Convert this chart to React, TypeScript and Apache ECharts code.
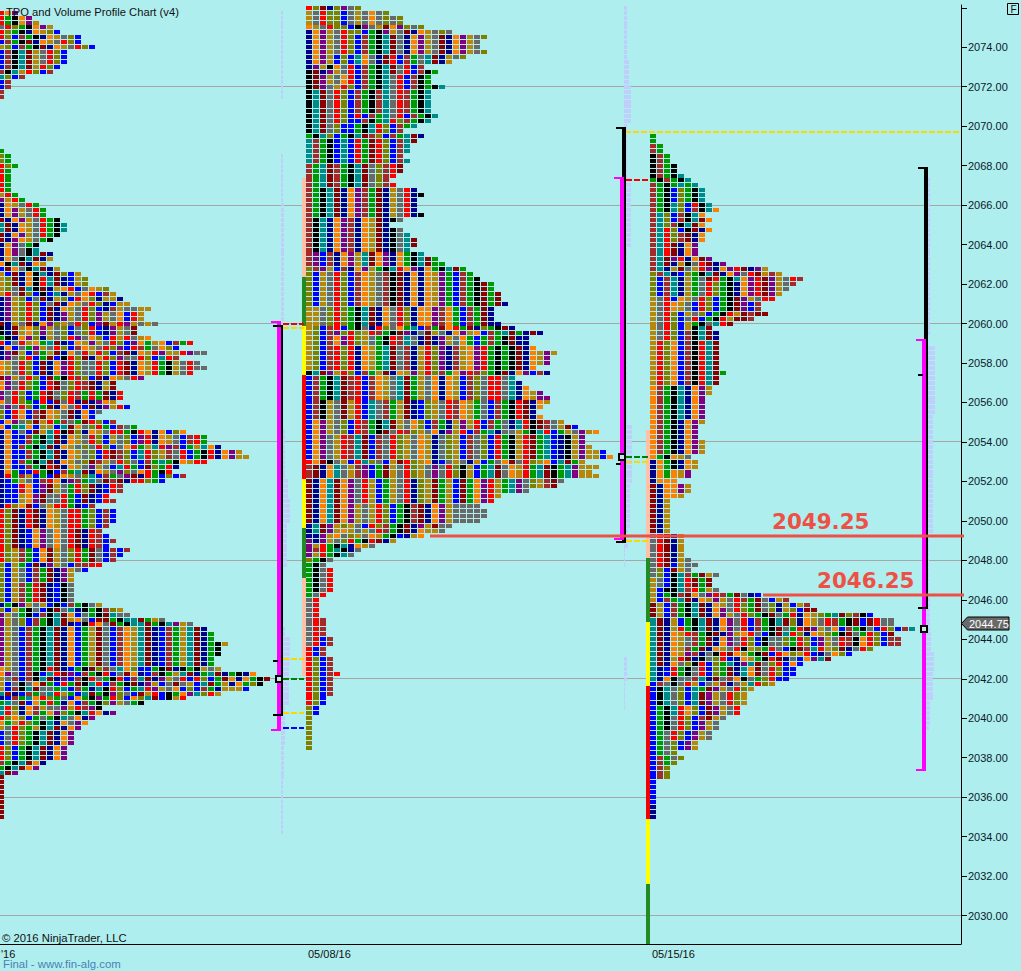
import React, { useEffect, useRef } from "react";
import * as echarts from "echarts";

type Band = [string, number[]];

const PRICE_TICKS = [2076, 2074, 2072, 2070, 2068, 2066, 2064, 2062, 2060, 2058, 2056, 2054, 2052, 2050, 2048, 2046, 2044, 2042, 2040, 2038, 2036, 2034, 2032, 2030];
const PRICE_LABELS = PRICE_TICKS.slice(1);
const GRID_PRICES = [2072, 2066, 2060, 2054, 2048, 2042, 2036, 2030];
const DATE_LABELS = ["'16", "05/08/16", "05/15/16"];
const LAST_PRICE = 2044.75;
const LEVEL_PRICES = [2049.25, 2046.25];

const PROFILE_A_TOP: Band[] = [
  ["rop", [3]], ["rgkop", [5]], ["rgkopy", [6]], ["arlgkopy", [8]], ["rlgknoylb", [9]],
  ["rlbwgknoyalb", [12]], ["bwgkmnoyarlb", [12]], ["ylbwgkmnoyarlb", [14]],
  ["bwktmyarlb", [10, 10, 10]], ["bwktmyrlb", [9]], ["wktyrlbw", [8]], ["tlbw", [4]], ["bw", [2, 2]], ["w", [1, 1]],
];

const PROFILE_A_MAIN: Band[] = [
  ["g", [1]], ["lg", [2, 2]], ["rlg", [3]], ["rg", [2, 2, 2, 2, 2]], ["yrg", [3]], ["pyrg", [4]],
  ["noyarg", [6]], ["nopyarg", [7, 7]], ["mnopyargk", [9]], ["tmnoyargk", [10, 10]], ["mnopyargk", [9]],
  ["mnpoyagk", [8]], ["nopagk", [6]], ["nopakt", [6]], ["nopaktmn", [8]], ["noaktmny", [8]], ["oktmnoy", [7]],
  ["bmoaktmny", [9]], ["ybmnoktnmlby", [12]], ["ylmnokrtmnbyl", [13, 13]], ["ylamtkmnyorbaoyl", [16]],
  ["yramlbkbtnyaorbwy", [17]], ["npylbamnylbrolnyy", [18]], ["npylrlbamnoyarlnbyy", [19]],
  ["npylrlbmnoyarlbnwyaayy", [22]], ["npylrlbmnpyarlpyaobry", [21, 21]], ["mnyamnoplyarlbpmyrpyaya", [23]],
  ["knmyolpyalbalrbnpyama", [20, 20]], ["gknoplnyalrpaolbryrayo", [22]], ["rbaryogtmnboypyarlbpogyobwgry", [28]],
  ["nobagpyarlbwoyarlpbrwgaolb", [26]], ["npmybwgymnoaryrlbwmnoyrpyyrpaa", [30]], ["npalrbgmbkrlmnyrlpaarlbtrwgy", [26]],
  ["oyarlbmnoprlaarlbrmnoyrgkyaraa", [29, 30, 28]], ["mpyarlbmgkrwlbmnoyarpk", [21]], ["oparlgbrmalrwmnym", [17, 17]],
  ["parlbgrmalrwgrgmnr", [18, 18]], ["oarlgbrbmarnmnpoy", [17]], ["aparlbgmnoarbmnpyrb", [19]], ["lbrobwmoyamnoba", [15, 14]],
  ["bopalmyrgwagmrlbw", [17]], ["obgtobyybtmoalrgbwag", [20]], ["nobabmytrkmlnoyarrgkronoblow", [27]],
  ["nobbwgktmnoyarlbyalbprnoyabwrgtrnbop", [30, 30]], ["nobwgktmnoyalarlbaorgytrpwbgyto", [32]],
  ["nobbwgktmnoyalbrmwlbtrlywarbgkrnopyy", [35, 36]], ["nobwgktmnoyalmwyarlabwgtgkoyrr", [30]],
  ["nobbwgkrmnoyapyabtrgbmlgr", [26]], ["nogbbrgkbwgtmnoyaplaorgkr", [25]], ["nrgwybgbmoyaltbwgapmnrgblbw", [27]],
  ["nbgyabwronpwgtamwmnrrlgb", [24]], ["nbbrobpmyagrlmnbrw", [18, 18]], ["nbbyopmaargbmnbrw", [16, 17]], ["nrlombayrrgnbw", [14]],
  ["rlmnrmnoyarrglbwb", [17, 17, 17, 16]], ["rlmnbopaoarmnrwbw", [15, 16, 17, 16]], ["rlywgbomyalrgmabwbw", [19, 18, 17]],
  ["lbygbmnpyabwwrr", [15]], ["lbyabwgmnpyab", [13, 11, 11]], ["lbywgrmnbka", [11, 11, 11, 11]], ["ngkpyaybkbwgkay", [15]],
  ["lbygkabkmatnkgkwly", [18]], ["pyagkbwktmobagkmtaa", [19]], ["pyalbwgktmyoabmmgkttmgya", [24]],
  ["pyalbwgktmnbkroamgkttmgktpya", [28]], ["pyabwgktmnobgymabwoytmnbwgytmngkya", [30, 31, 31, 33, 32, 32, 31, 31]],
  ["oyabwgkrmnbgkmlwatolbbgkmnkgkyayy", [32]], ["opabwkbtrmpbwgkrbamonbwkgytmngtmngknoy", [37]],
  ["yawbwktmnpbwkragkrbwtmnpyarbrlbgmonogkmny", [39]], ["ybakaomgbrgmktrbwgkmnpybamaybtmgynoglkmny", [38]],
  ["ybwktmaagtbwgntkrlbgtrpyaoblbwgnyy", [36]], ["tmnbwgatrygbtmgkplabmyrbkgoptlry", [32]],
  ["nbwgtorlgabogkpgrlboltmbkyrpy", [27]], ["gtambogrgnobwgklpyagkwg", [21]], ["trlnowyaapyrwpk", [15]],
  ["trynowgoplgktronp", [17]], ["rlolbgagktaonp", [14]], ["ogyrlgktnoap", [13]], ["yarlgyktmnop", [12]],
  ["barlgktmnop", [11, 11, 11]], ["rlbgktmnop", [10, 10, 10]], ["wgktmon", [7]], ["gktmop", [6]], ["tmp", [3]],
  ["m", [1, 1, 1, 1, 1, 1, 1, 1, 1]],
];

const PROFILE_B: Band[] = [
  ["rlmnlpal", [8]], ["yarllbayaoalal", [12, 14, 14]], ["oyarllbkpaymoplal", [17]], ["nopyarllbgkpyamnoyala", [21]],
  ["nopyarlbwgktmanopyamnopyalb", [26, 25, 25, 26]], ["nopyblbtoanmrbwgatmnyalrb", [23, 21]], ["npykoarbwgktmarbw", [17]],
  ["kmnpyarbwgktmarbwkg", [19]], ["kmpyaorbwgktarbwkg", [18, 18]], ["kmpayrlbwgktarbwkgkt", [20]],
  ["ktmarlbwgkwtarwgkt", [18, 18, 18, 18, 18]], ["ktmarlbrbwgtarbwgkt", [19]], ["ktmarlbbwkgtrlwgkt", [18]],
  ["ktmalbbgktrlbwgt", [16, 14]], ["gktlbgktmwlbwgtmn", [17]], ["twgkbtbrgmrlbwtmn", [16, 15, 15, 14, 15]],
  ["wgtmwgktmalwrmnk", [14, 14, 13, 12, 13]], ["wgktmnopwgmnyarnk", [16, 17, 16, 16, 16, 17]],
  ["wktnopwnoymnkatm", [14, 12, 14, 15, 16, 16, 15]], ["wpbwnopytmopnogktmgg", [17, 19, 20]],
  ["lwpybwnopygktropnogktmg", [23]], ["lbyarlbwoyawkmnonoypgbwgkmgmnn", [24, 25, 27, 27, 28, 28, 29]],
  ["yyalrlgktmnoarlnoopwogbwgmnn", [27, 27, 27, 28]], ["ylbwrbgkanrlaogtbwgmorgmnlgkmn", [30]],
  ["ylbwplrlyrwgkmpnamyanopyobwgtmgnmn", [34]], ["ylbwoprlyagkrwtanmnpyaogbgwgkmnn", [32, 32]],
  ["ylbwrlrnoygtmawnyrlpnwyoprgkgkmnoyp", [33, 36, 35, 35, 33]], ["ktmpyrlbwgymnoypyrlwgoprwlgkmnopbwn", [35]],
  ["bwgktmwrbwoyatmgyaonoybwlarratnoyppl", [30, 31, 32, 34, 35]], ["bwkyamyrbtawgymnblyarwoygabwgkrmnoyp", [35, 34, 33, 34]],
  ["bopyalbrwgktmyaolbwgnypyrbwgantrkmwaym", [37, 39]], ["bopyalbrwgkmarwlyaonpyrbwgtnaaygktrbgyapyo", [42]],
  ["bopayrwtmbwarlyaoynalybwalbrgkyrmgtbnkypyy", [40, 40, 41, 43, 44]], ["romkaybrtlabymrlyonbayanybgaomarlyobtmgy", [40]],
  ["wmnotaywpbgmyarlyaparlkybgtmaoyrgtmkgtpyyy", [42, 41, 42]], ["mnotmoparybgyarnlymgybmgoprygtpalywma", [37, 36, 32, 28, 27]],
  ["mnotmopyayrlbgkwmnopyaaaaa", [25, 26, 26, 25]], ["ntmpylyabrlwgkmnpymaa", [21]], ["ntmpyoyayarwgkmnoyya", [20]],
  ["nnpyoalyaoygkbnyo", [17]], ["pnpyalrgkrmny", [13]], ["pyrgktnoya", [10]], ["pwrgtkna", [8]], ["pyrgkta", [7]],
  ["lgka", [4]], ["gka", [3]], ["gkar", [4, 4, 4, 4, 4]], ["gar", [3]], ["ar", [2, 2, 2, 2]], ["arw", [3, 3, 3, 3]],
  ["arbw", [4, 4]], ["rbw", [3, 3]], ["rlbwr", [4, 4, 4, 5, 4, 4, 4, 4]], ["rlb", [3, 3]], ["lb", [2, 2]],
  ["l", [1, 1, 1, 1, 1, 1, 1]],
];

const PROFILE_C: Band[] = [
  ["g", [1, 1]], ["wg", [2, 2]], ["kwg", [3, 3]], ["kwgk", [4, 4]], ["kwgkt", [5]], ["gkwgkt", [6]], ["wgkgtgt", [7]],
  ["wgkblgkt", [8, 8, 8]], ["wgktlbrkt", [9]], ["wgktlbwkto", [10]], ["wtlbwkto", [8]], ["wtlbwktmo", [9]], ["wtlwktmo", [8]],
  ["wtrlbkmno", [9]], ["wtrlwmno", [8, 8]], ["wtrmnop", [7, 7, 7]], ["wtmprnomp", [9]], ["wtmnykarmnp", [11]],
  ["wtnymayrpnoprmnpyw", [17]], ["lwtnblgktmnoparmywy", [19]], ["lbwtnygamrgktoprmpyarw", [22]], ["lbwtnygarlgknoprmpyawrw", [21, 20, 19]],
  ["yarboyarlbgkmpyarrw", [18]], ["yaroyabrlbgkmpbw", [16, 16]], ["yarlbyalbgkrymwmm", [17]], ["yarlbarbgkrymmw", [15]],
  ["yarlbygkatrm", [12]], ["yarlbyktm", [9]], ["yarlbwktmn", [10, 10]],
  ["yrlobwkrtmgp", [10, 10, 10, 10, 10, 10, 11, 10, 10]], ["owgktnopyam", [9, 9, 8, 8, 8, 8, 8]],
  ["owgknopy", [8, 7, 7, 7, 8, 8, 8]], ["ogkoya", [6]], ["nogknoy", [7, 7]], ["nogoyp", [6, 6]], ["nooo", [4]],
  ["mnoopy", [6, 6]], ["mnooy", [5]], ["mny", [3, 3, 3, 3, 3, 3, 3]], ["armny", [5, 5, 5, 5, 5]], ["armnya", [6]],
  ["armbyaa", [7]], ["albmya", [6]], ["albktwgmya", [10]], ["yabktrmgma", [9, 9]], ["ybkktwrgyab", [10]],
  ["ybgkwmoaprwgmanb", [16]], ["ybwgtmnoypyarwgmabyw", [20]], ["mybwgktmnoyarlgmalnybyw", [23]],
  ["mybwgktmnoparlgmalnylbm", [24]], ["mybwgktmnopyarlgkmagrnoylgtmlwkbm", [32]],
  ["tmnybgktmnoparbwgktmlnoyarwgkmbmraa", [35, 35]], ["tmnyrgktmnoparbwgkmagrmpyaobwgkabrlbw", [38]],
  ["tmnoyrwgkmnpyorabkmtrlnoylgkmagrlbm", [35]], ["tmnoyawgmnoparlbkaalgrlbpyarwkorlbww", [36, 36]],
  ["tmnoywgmnoyarkylgrabkmwtrylmnarlb", [32]], ["tmnoypwnakrmoygkmbrolyrbnaolb", [29]], ["tmnyrmnkalrbnoygkrmnabop", [26]],
  ["tmnoalkrblgtnptmalrbob", [22]], ["tnbrgkarblgmntomarlbb", [21, 21]], ["tnokaawtnmawokaglrbb", [20]],
  ["bwakarybaywnaytrly", [18]], ["bktalbtgmpyarly", [15]], ["bktalbtmpyarly", [14, 14, 14]], ["bgktrolbmpyar", [13, 13]],
  ["bgkarlbwmya", [11]], ["bgkarlbpya", [10, 10]], ["bgarlbpya", [9, 9]], ["bgalbpy", [7, 7]], ["bgal", [4]], ["bwgal", [5]],
  ["bwgl", [4]], ["bwl", [3, 3, 3]], ["b", [1, 1, 1, 1, 1]], ["n", [1, 1, 1]],
];

// [row count, volume] runs, from the top price downward
const VOLUME_A_RUNS = [[18, 2], [11, 0], [10, 2], [24, 3], [22, 2], [10, 4], [4, 7], [5, 9], [9, 6], [12, 2], [2, 4], [6, 9], [8, 8], [8, 4], [7, 3], [11, 2]];
const VOLUME_B_RUNS = [[11, 3], [5, 5], [8, 7], [11, 3], [14, 7], [36, 3], [12, 8], [9, 6], [4, 4], [4, 1], [18, 0], [5, 3], [6, 1]];
const VOLUME_C_RUNS = [[32, 4], [2, 2], [14, 9], [24, 7], [13, 3], [7, 4], [4, 5], [4, 8], [6, 7], [5, 4], [1, 3]];

// [top, bottom, colour]
const SESSION_BAND_A = [[2067.375, 2062.375, "s"], [2062.375, 2059.875, "f"], [2059.875, 2057.375, "u"], [2057.375, 2052.125, "e"], [2052.125, 2049.625, "u"], [2049.625, 2047.125, "f"], [2047.125, 2042.125, "s"]];
const SESSION_BAND_C = [[2054.625, 2048.125, "s"], [2048.125, 2044.875, "f"], [2044.875, 2041.625, "u"], [2041.625, 2034.875, "e"], [2034.875, 2031.625, "u"], [2031.625, 2028.56, "f"]];
const RANGE_A = { ib: [2059.86, 2040.14], full: [2060.06, 2039.38], ticks: [2042.88], poc: 2042 };
const RANGE_B = { ib: [2069.9, 2048.92], full: [2067.36, 2049.1], ticks: [2052.88], poc: 2053.25 };
const RANGE_C = { ib: [2067.87, 2045.6], full: [2059.15, 2037.4], ticks: [2057.37], poc: 2044.5 };
const DASH_LEVELS_A = [[2060, "e"], [2059.75, "d"], [2043, "d"], [2042, "G"], [2040.25, "d"], [2039.5, "B"]];
const DASH_LEVELS_B = [[2067.25, "e"], [2053.25, "G"], [2053, "d"], [2049, "d"]];
const LONG_DASH_LEVEL = 2069.7;

const COL_PX = 7;
const GRID_W = 961;
const X = (px: number) => px / COL_PX;
const Y_MIN = 2028.56;
const Y_MAX = 2076.14;
const BG = "#AFEEEE";
const CELL_COLORS: Record<string, string> = {
  r: "#FF0000", g: "#009900", k: "#000000", t: "#008B8B", m: "#8B0000", n: "#00008B", o: "#FF8000",
  p: "#800080", y: "#B8860B", a: "#696969", l: "#808000", b: "#0000FF", w: "#A52A2A",
};
const MARK_COLORS: Record<string, string> = {
  s: "#FFC0A8", f: "#228B22", u: "#FFFF00", e: "#F00000", d: "#FFD700", G: "#008000", B: "#0000FF",
  M: "#FF00FF", K: "#000000",
};
const FONT = '"Liberation Sans", Arial, sans-serif';
const LEVEL_RED = "#EE5046";

function cells(bands: Band[], topPrice: number, startPx: number) {
  const out: any[] = [];
  let row = 0;
  for (const [colors, widths] of bands) {
    for (const w of widths) {
      for (let c = 0; c < w; c++) {
        out.push([X(startPx + c * COL_PX), topPrice - row * 0.25, CELL_COLORS[colors[c % colors.length]]]);
      }
      row++;
    }
  }
  return out;
}

function volumes(runs: number[][], topPrice: number, basePx: number) {
  const out: any[] = [];
  let row = 0;
  for (const [n, v] of runs) {
    for (let i = 0; i < n; i++) {
      if (v > 0) out.push([X(basePx), topPrice - row * 0.25, v]);
      row++;
    }
  }
  return out;
}

function rangeMarks(r: any, magL: number, magR: number, blackR: number, blackTopL: number, magCapL: number, blackBotL: number, tickL: number) {
  const rects: any[] = [
    [X(blackR - 4), X(blackR), r.ib[0], r.ib[1], "K"],
    [X(magL), X(magR), r.full[0], r.full[1], "M"],
  ];
  const caps: any[] = [
    [X(blackTopL), X(blackR), r.ib[0], "K"],
    [X(blackBotL), X(blackR), r.ib[1], "K"],
    [X(magCapL), X(magR), r.full[0], "M"],
    [X(magCapL), X(magR), r.full[1], "M"],
    ...r.ticks.map((p: number) => [X(tickL), X(magL + 1), p, "K"]),
  ];
  return { rects, caps };
}

export default function App() {
  const ref = useRef<HTMLDivElement>(null);
  useEffect(() => {
    document.body.style.margin = "0";
    document.body.style.background = BG;
    const chart = echarts.init(ref.current!, null, { renderer: "svg" });

    const cellData = [
      ...cells(PROFILE_A_TOP, 2075.75, -2),
      ...cells(PROFILE_A_MAIN, 2068.75, -2),
      ...cells(PROFILE_B, 2076, 306),
      ...cells(PROFILE_C, 2069.5, 650),
    ];
    const volData = [
      ...volumes(VOLUME_A_RUNS, 2075.75, 281),
      ...volumes(VOLUME_B_RUNS, 2076, 624),
      ...volumes(VOLUME_C_RUNS, 2067.25, 926),
    ];
    const bandData = [
      ...SESSION_BAND_A.map((b) => [X(302), X(306), b[0], b[1], b[2]]),
      ...SESSION_BAND_C.map((b) => [X(646), X(650), b[0], b[1], b[2]]),
    ];
    const mA = rangeMarks(RANGE_A, 277, 281, 283, 273, 271, 273, 273);
    const mB = rangeMarks(RANGE_B, 620, 624, 626, 616, 614, 616, 616);
    const mC = rangeMarks(RANGE_C, 922, 926, 928, 918, 916, 918, 918);
    const dashData = [
      ...DASH_LEVELS_A.map((d) => [X(283), X(304), d[0], d[1]]),
      ...DASH_LEVELS_B.map((d) => [X(626), X(648), d[0], d[1]]),
      [X(625), X(GRID_W), LONG_DASH_LEVEL, "d"],
    ];
    const markerData = [
      [X(279), RANGE_A.poc],
      [X(621.5), RANGE_B.poc],
      [X(924), RANGE_C.poc],
    ];
    const levelStarts = [430, 763];
    const labelStarts = [772, 817];

    const rectSeries = (data: any[], z: number) => ({
      type: "custom", coordinateSystem: "cartesian2d", z, silent: true, progressive: 0, clip: false, data,
      renderItem: (_: any, api: any) => {
        const a = api.coord([api.value(0), api.value(2)]);
        const b = api.coord([api.value(1), api.value(3)]);
        const c = data[_.dataIndex][4];
        const x = Math.round(a[0]), y = Math.round(a[1]);
        return {
          type: "rect",
          shape: { x, y, width: Math.round(b[0]) - x, height: Math.round(b[1]) - y },
          style: { fill: MARK_COLORS[c] },
        };
      },
      encode: { x: [0, 1], y: [2, 3] },
    });
    const capSeries = (data: any[], z: number) => ({
      type: "custom", coordinateSystem: "cartesian2d", z, silent: true, progressive: 0, clip: false, data,
      renderItem: (_: any, api: any) => {
        const a = api.coord([api.value(0), api.value(2)]);
        const b = api.coord([api.value(1), api.value(2)]);
        const c = data[_.dataIndex][3];
        const x = Math.round(a[0]);
        return {
          type: "rect",
          shape: { x, y: Math.round(a[1]) - 1, width: Math.round(b[0]) - x, height: 2 },
          style: { fill: MARK_COLORS[c] },
        };
      },
      encode: { x: [0, 1], y: 2 },
    });

    chart.setOption({
      animation: false,
      backgroundColor: BG,
      grid: { left: 0, top: 5, width: GRID_W, height: 939, containLabel: false },
      xAxis: {
        type: "value",
        min: 0,
        max: X(GRID_W),
        splitLine: { show: false },
        axisLine: { show: true, onZero: false, lineStyle: { color: "#000", width: 1 } },
        axisTick: { show: false },
        axisLabel: { show: false },
      },
      yAxis: {
        type: "value",
        position: "right",
        min: Y_MIN,
        max: Y_MAX,
        scale: true,
        splitLine: { show: false },
        axisLine: { show: true, onZero: false, lineStyle: { color: "#000", width: 1 } },
        axisTick: { show: true, length: 6, lineStyle: { color: "#000", width: 1 }, customValues: PRICE_TICKS },
        axisLabel: {
          show: true,
          customValues: PRICE_LABELS,
          formatter: (v: number) => v.toFixed(2),
          fontFamily: FONT,
          fontSize: 11,
          color: "#0a1a2a",
          margin: 7,
        },
      },
      series: [
        {
          type: "custom", coordinateSystem: "cartesian2d", z: 1, silent: true, progressive: 0, clip: false,
          data: GRID_PRICES.map((p) => [0, p]),
          encode: { x: 0, y: 1 },
          renderItem: (_: any, api: any) => {
            const a = api.coord([0, api.value(1)]);
            const y = Math.floor(a[1]) + 0.5;
            return { type: "line", shape: { x1: 0, y1: y, x2: GRID_W, y2: y }, style: { stroke: "#A6A6A6", lineWidth: 1 } };
          },
        },
        {
          type: "custom", coordinateSystem: "cartesian2d", z: 2, silent: true, progressive: 0, clip: false,
          data: volData,
          encode: { x: 0, y: 1 },
          renderItem: (_: any, api: any) => {
            const a = api.coord([api.value(0), api.value(1)]);
            return {
              type: "rect",
              shape: { x: Math.round(a[0]), y: Math.round(a[1] - 2), width: api.value(2), height: 4 },
              style: { fill: "#BDCFFA" },
            };
          },
        },
        rectSeries(bandData, 3),
        {
          type: "custom", coordinateSystem: "cartesian2d", z: 4, silent: true, progressive: 0, clip: false,
          data: cellData,
          encode: { x: 0, y: 1 },
          renderItem: (p: any, api: any) => {
            const a = api.coord([api.value(0), api.value(1)]);
            return {
              type: "rect",
              shape: { x: Math.round(a[0]), y: Math.round(a[1] - 2), width: 6, height: 4 },
              style: { fill: cellData[p.dataIndex][2] },
            };
          },
        },
        {
          type: "custom", coordinateSystem: "cartesian2d", z: 5, silent: true, progressive: 0, clip: false,
          data: dashData,
          encode: { x: [0, 1], y: 2 },
          renderItem: (p: any, api: any) => {
            const a = api.coord([api.value(0), api.value(2)]);
            const b = api.coord([api.value(1), api.value(2)]);
            const y = Math.round(a[1]);
            return {
              type: "line",
              shape: { x1: a[0], y1: y, x2: b[0], y2: y },
              style: { stroke: MARK_COLORS[dashData[p.dataIndex][3] as string], lineWidth: 2, lineDash: [6, 2] },
            };
          },
        },
        rectSeries([...mA.rects, ...mB.rects, ...mC.rects], 6),
        capSeries([...mA.caps, ...mB.caps, ...mC.caps], 7),
        {
          type: "custom", coordinateSystem: "cartesian2d", z: 8, silent: true, progressive: 0, clip: false,
          data: markerData,
          encode: { x: 0, y: 1 },
          renderItem: (_: any, api: any) => {
            const a = api.coord([api.value(0), api.value(1)]);
            return {
              type: "rect",
              shape: { x: Math.round(a[0]) - 3, y: Math.round(a[1]) - 3, width: 6, height: 6 },
              style: { fill: "#C8E8E8", stroke: "#000", lineWidth: 2 },
            };
          },
        },
        {
          type: "custom", coordinateSystem: "cartesian2d", z: 9, silent: true, progressive: 0, clip: false,
          data: LEVEL_PRICES.map((p, i) => [X(levelStarts[i]), p, i]),
          encode: { x: 0, y: 1 },
          renderItem: (p: any, api: any) => {
            const a = api.coord([api.value(0), api.value(1)]);
            const y = Math.round(a[1]);
            return {
              type: "group",
              children: [
                { type: "rect", shape: { x: a[0], y: y - 1.5, width: 964 - a[0], height: 3 }, style: { fill: LEVEL_RED } },
                {
                  type: "text",
                  x: labelStarts[p.dataIndex],
                  y: y - 15,
                  style: {
                    text: LEVEL_PRICES[p.dataIndex].toFixed(2),
                    fill: LEVEL_RED,
                    font: 'bold 21.4px "DejaVu Sans", sans-serif',
                    textAlign: "left",
                    textVerticalAlign: "middle",
                  },
                },
              ],
            };
          },
        },
        {
          type: "custom", coordinateSystem: "cartesian2d", z: 10, silent: true, progressive: 0, clip: false,
          data: [[X(GRID_W), LAST_PRICE]],
          encode: { x: 0, y: 1 },
          renderItem: (_: any, api: any) => {
            const a = api.coord([api.value(0), api.value(1)]);
            const y = Math.round(a[1]) - 0.5;
            const x = a[0] + 0.5;
            return {
              type: "group",
              children: [
                {
                  type: "polygon",
                  shape: { points: [[x, y], [x + 6, y - 6.5], [1009, y - 6.5], [1009, y + 6.5], [x + 6, y + 6.5]] },
                  style: { fill: "#696969", stroke: "#000", lineWidth: 1 },
                },
                {
                  type: "text", x: 969, y,
                  style: { text: LAST_PRICE.toFixed(2), fill: "#fff", font: `11px ${FONT}`, textAlign: "left", textVerticalAlign: "middle" },
                },
              ],
            };
          },
        },
      ],
      graphic: [
        { type: "text", x: 6, y: 12, z: 20, style: { text: "TPO and Volume Profile Chart (v4)", fill: "#111", font: `11.2px ${FONT}`, textVerticalAlign: "middle" } },
        { type: "text", x: 2, y: 938, z: 20, style: { text: "\u00A9 2016 NinjaTrader, LLC", fill: "#111", font: `11.3px ${FONT}`, textVerticalAlign: "middle" } },
        { type: "text", x: 1, y: 954, z: 20, style: { text: DATE_LABELS[0], fill: "#111", font: `11px ${FONT}`, textVerticalAlign: "middle" } },
        { type: "text", x: 308, y: 954, z: 20, style: { text: DATE_LABELS[1], fill: "#111", font: `11px ${FONT}`, textVerticalAlign: "middle" } },
        { type: "text", x: 652, y: 954, z: 20, style: { text: DATE_LABELS[2], fill: "#111", font: `11px ${FONT}`, textVerticalAlign: "middle" } },
        { type: "text", x: 3, y: 964, z: 20, style: { text: "Final - www.fin-alg.com", fill: "#4682B4", font: `11.4px ${FONT}`, textVerticalAlign: "middle" } },
        { type: "rect", z: 20, shape: { x: 1007.5, y: 3.5, width: 11, height: 11 }, style: { fill: BG, stroke: "#000", lineWidth: 1 } },
        { type: "text", x: 1010.5, y: 9, z: 21, style: { text: "F", fill: "#111", font: `10px ${FONT}`, textVerticalAlign: "middle" } },
      ],
    });
    return () => chart.dispose();
  }, []);
  return <div ref={ref} style={{ position: "absolute", left: 0, top: 0, width: 1021, height: 971 }} />;
}
